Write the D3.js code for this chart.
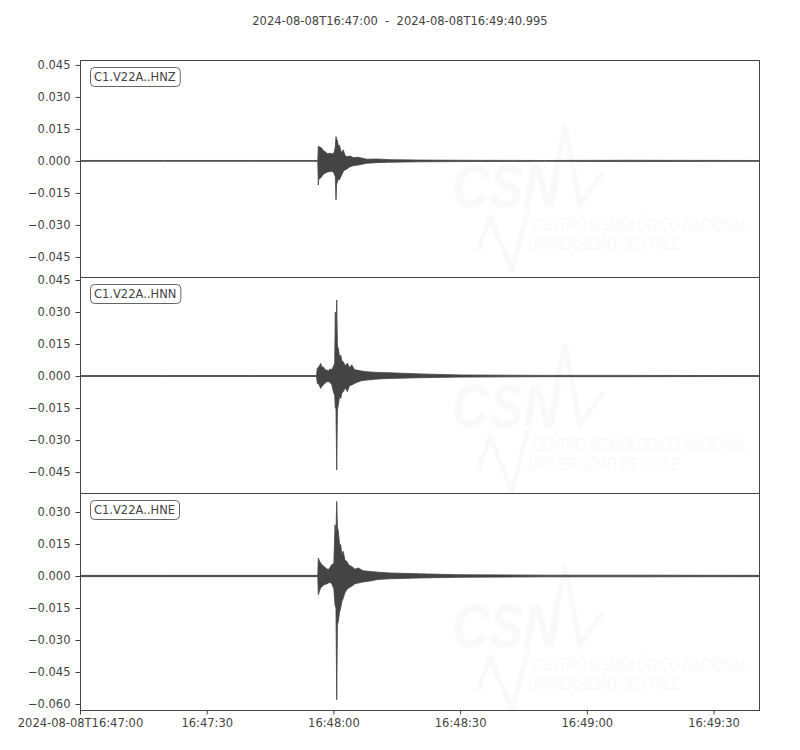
<!DOCTYPE html>
<html>
<head>
<meta charset="utf-8">
<script src="https://cdn.jsdelivr.net/npm/d3@7/dist/d3.min.js"></script>
<style>
  html, body { margin: 0; padding: 0; background: #fff; }
  svg { display: block; }
  text { white-space: pre; }
</style>
</head>
<body>
<svg id="chart" width="800" height="750"></svg>
<script>
// ---------------- DATA ----------------
const titleText = "2024-08-08T16:47:00  -  2024-08-08T16:49:40.995";
const startTime = "2024-08-08T16:47:00Z";
const durationSec = 160.995;
const traceLabels = ["C1.V22A..HNZ", "C1.V22A..HNN", "C1.V22A..HNE"];

// y-axis limits per trace
const yLimits = [
  [-0.0544, 0.0473],
  [-0.0548, 0.0464],
  [-0.0628, 0.0389]
];
const yTicks = [
  [0.045, 0.030, 0.015, 0.000, -0.015, -0.030, -0.045],
  [0.045, 0.030, 0.015, 0.000, -0.015, -0.030, -0.045],
  [0.030, 0.015, 0.000, -0.015, -0.030, -0.045, -0.060]
];
const xTickSeconds = [0, 30, 60, 90, 120, 150];
const xTickLabels = ["2024-08-08T16:47:00", "16:47:30", "16:48:00", "16:48:30", "16:49:00", "16:49:30"];

// amplitude envelopes: [seconds after start, max, min]
const hnzEnvelope = [
  [0, 0.0002, -0.0002], [20, 0.0002, -0.0002], [40, 0.0002, -0.0002], [56.3, 0.0002, -0.0002],
  [56.42, 0.0070, -0.0113], [56.55, 0.0062, -0.0080], [56.7, 0.0066, -0.0085], [57.22, 0.0060, -0.0074],
  [57.6, 0.0048, -0.0062], [58.01, 0.0044, -0.0058], [58.6, 0.0034, -0.0052], [59.19, 0.0036, -0.0050],
  [59.7, 0.0032, -0.0048], [60.14, 0.0038, -0.0058],
  [60.45, 0.0065, -0.0075], [60.61, 0.0114, -0.0183], [60.75, 0.0100, -0.0110],
  [60.92, 0.0098, -0.0100], [61.15, 0.0070, -0.0085], [61.39, 0.0075, -0.0089], [61.96, 0.0036, -0.0066],
  [62.34, 0.0052, -0.0050], [62.7, 0.0028, -0.0042], [63.14, 0.0020, -0.0039], [63.93, 0.0023, -0.0027],
  [64.8, 0.0015, -0.0022], [65.89, 0.0017, -0.0019], [67.88, 0.0008, -0.0011], [70.2, 0.0009, -0.0008],
  [73.40, 0.0006, -0.0006], [80.5, 0.0004, -0.0004], [90, 0.0003, -0.0003], [110, 0.0002, -0.0002],
  [130, 0.0003, -0.0003], [160.995, 0.0002, -0.0002]
];
const hnnEnvelope = [
  [0, 0.0002, -0.0002], [20, 0.0002, -0.0002], [40, 0.0002, -0.0002], [56.0, 0.0002, -0.0002],
  [56.18, 0.0036, -0.0034], [56.6, 0.0045, -0.0040], [56.99, 0.0059, -0.0058], [57.3, 0.0040, -0.0048],
  [57.60, 0.0044, -0.0042], [58.0, 0.0030, -0.0034], [58.41, 0.0028, -0.0027], [58.8, 0.0024, -0.0026],
  [59.19, 0.0033, -0.0030], [59.6, 0.0030, -0.0040], [59.97, 0.0044, -0.0073],
  [60.3, 0.0060, -0.0090], [60.45, 0.0300, -0.0150], [60.6, 0.0160, -0.0150],
  [60.78, 0.0356, -0.0440], [60.95, 0.0140, -0.0160], [61.16, 0.0130, -0.0136],
  [61.45, 0.0090, -0.0095], [61.72, 0.0098, -0.0105], [62.0, 0.0070, -0.0080], [62.34, 0.0067, -0.0073],
  [62.8, 0.0048, -0.0055], [63.29, 0.0060, -0.0073], [63.8, 0.0040, -0.0045],
  [64.33, 0.0052, -0.0042], [65.0, 0.0030, -0.0035], [65.51, 0.0028, -0.0030], [66.6, 0.0024, -0.0022],
  [67.88, 0.0020, -0.0019], [70.5, 0.0017, -0.0014],
  [73.40, 0.0015, -0.0011], [80.50, 0.0010, -0.0008], [89.97, 0.0005, -0.0005],
  [110, 0.0003, -0.0003], [130, 0.0003, -0.0003], [160.995, 0.0002, -0.0002]
];
const hneEnvelope = [
  [0, 0.0003, -0.0003], [20, 0.0003, -0.0003], [40, 0.0003, -0.0003], [56.3, 0.0003, -0.0003],
  [56.42, 0.0084, -0.0088], [56.7, 0.0070, -0.0070], [56.99, 0.0061, -0.0056], [57.4, 0.0050, -0.0048],
  [57.77, 0.0045, -0.0041], [58.3, 0.0035, -0.0038], [58.79, 0.0030, -0.0033], [59.2, 0.0040, -0.0030],
  [59.59, 0.0053, -0.0036], [60.1, 0.0060, -0.0060],
  [60.37, 0.0240, -0.0135], [60.6, 0.0200, -0.0150], [60.78, 0.0350, -0.0580],
  [60.95, 0.0230, -0.0230], [61.16, 0.0210, -0.0212], [61.45, 0.0150, -0.0170], [61.72, 0.0147, -0.0150],
  [62.0, 0.0100, -0.0120], [62.34, 0.0116, -0.0103], [62.7, 0.0075, -0.0080], [63.14, 0.0069, -0.0064],
  [63.7, 0.0050, -0.0055], [64.33, 0.0045, -0.0048], [65.1, 0.0032, -0.0036],
  [65.89, 0.0037, -0.0033], [67.0, 0.0025, -0.0028], [68.26, 0.0022, -0.0025], [70.6, 0.0018, -0.0016],
  [73.40, 0.0014, -0.0013], [80.5, 0.0010, -0.0009], [90, 0.0006, -0.0006], [110, 0.0004, -0.0004],
  [130, 0.0004, -0.0004], [160.995, 0.0003, -0.0003]
];
const envelopes = [hnzEnvelope, hnnEnvelope, hneEnvelope];

// ---------------- DRAWING ----------------
const svg = d3.select("#chart");
const left = 80, right = 760;
const panelTops = [60, 277, 493];
const panelH = [217, 216, 217];
const ink = "#444444";
const font = "DejaVu Sans, sans-serif";
const wmColor = "#f9f9f9";

const t0 = new Date(startTime);
const t1 = new Date(t0.getTime() + durationSec * 1000);
const x = d3.scaleUtc().domain([t0, t1]).range([left, right]);
const toDate = s => new Date(t0.getTime() + s * 1000);

svg.append("text")
  .attr("x", 400).attr("y", 25)
  .attr("text-anchor", "middle")
  .attr("font-family", font).attr("font-size", 11.5)
  .attr("fill", ink)
  .attr("xml:space", "preserve")
  .text(titleText);

const defs = svg.append("defs");

// watermark text squeezed horizontally to a target width
function wmText(parent, str, x0, y0, size, targetW, bold) {
  const gt = parent.append("g");
  const t = gt.append("text")
    .attr("x", 0).attr("y", 0)
    .attr("font-family", "Liberation Sans, sans-serif")
    .attr("font-style", "italic")
    .attr("font-weight", bold ? "bold" : "normal")
    .attr("font-size", size)
    .attr("stroke", "none")
    .text(str);
  const w = t.node().getComputedTextLength();
  gt.attr("transform", `translate(${x0},${y0}) scale(${targetW / w},1)`);
}

envelopes.forEach((env, i) => {
  const top = panelTops[i], h = panelH[i];
  const y = d3.scaleLinear().domain(yLimits[i]).range([top + h, top]);
  const g = svg.append("g");

  defs.append("clipPath").attr("id", "clip" + i)
    .append("rect").attr("x", left).attr("y", top).attr("width", right - left).attr("height", h);

  const inner = g.append("g").attr("clip-path", `url(#clip${i})`);

  // faint watermark
  const wm = inner.append("g").attr("transform", `translate(0,${[0, 220, 440][i]})`)
    .attr("fill", wmColor).attr("stroke", wmColor);
  wmText(wm, "CSN", 452, 207, 62, 108, true);
  wm.append("path").attr("d", "M548,207 L565,125 L580,205 L603,172").attr("fill", "none").attr("stroke-width", 5);
  wm.append("path").attr("d", "M478,250 L490,218 L512,270 L528,210").attr("fill", "none").attr("stroke-width", 5);
  wmText(wm, "CENTRO SISMOLÓGICO NACIONAL", 532, 231, 19, 216, false);
  wmText(wm, "UNIVERSIDAD DE CHILE", 528, 250, 18, 152, false);

  // waveform envelope
  const area = d3.area()
    .x(d => x(toDate(d[0])))
    .y0(d => y(d[2]))
    .y1(d => y(d[1]));
  inner.append("path")
    .datum(env)
    .attr("d", area)
    .attr("fill", ink)
    .attr("stroke", ink)
    .attr("stroke-width", 0.8)
    .attr("stroke-linejoin", "miter");

  // y axis
  const yAxis = d3.axisLeft(y)
    .tickValues(yTicks[i])
    .tickSize(4.5)
    .tickPadding(5)
    .tickFormat(v => d3.format(".3f")(v).replace("-", "\u2212"));
  const ya = g.append("g").attr("transform", `translate(${left},0)`).call(yAxis);
  ya.select(".domain").remove();
  ya.selectAll(".tick line").attr("stroke", ink).attr("stroke-width", 1);
  ya.selectAll(".tick text").attr("fill", ink).attr("font-family", font).attr("font-size", 11.5);

  // frame
  g.append("rect")
    .attr("x", left + 0.5).attr("y", top + 0.5)
    .attr("width", right - left - 1).attr("height", h)
    .attr("fill", "none").attr("stroke", ink).attr("stroke-width", 1);

  // station label
  const lbl = g.append("g");
  const txt = lbl.append("text")
    .attr("x", 94).attr("y", top + 21)
    .attr("font-family", font).attr("font-size", 11.5)
    .attr("fill", ink)
    .text(traceLabels[i]);
  const bb = txt.node().getBBox();
  lbl.insert("rect", "text")
    .attr("x", 90.5).attr("y", top + 7.5)
    .attr("width", bb.width + 8).attr("height", 19)
    .attr("rx", 4).attr("ry", 4)
    .attr("fill", "#fff").attr("stroke", "#666").attr("stroke-width", 1);

  if (i === envelopes.length - 1) {
    const xAxis = d3.axisBottom(x)
      .tickValues(xTickSeconds.map(toDate))
      .tickSize(4.5)
      .tickPadding(4)
      .tickFormat((d, k) => xTickLabels[k]);
    const xa = g.append("g").attr("transform", `translate(0,${top + h})`).call(xAxis);
    xa.select(".domain").remove();
    xa.selectAll(".tick line").attr("stroke", ink);
    xa.selectAll(".tick text").attr("fill", ink).attr("font-family", font).attr("font-size", 11.5);
  }
});
</script>
</body>
</html>
